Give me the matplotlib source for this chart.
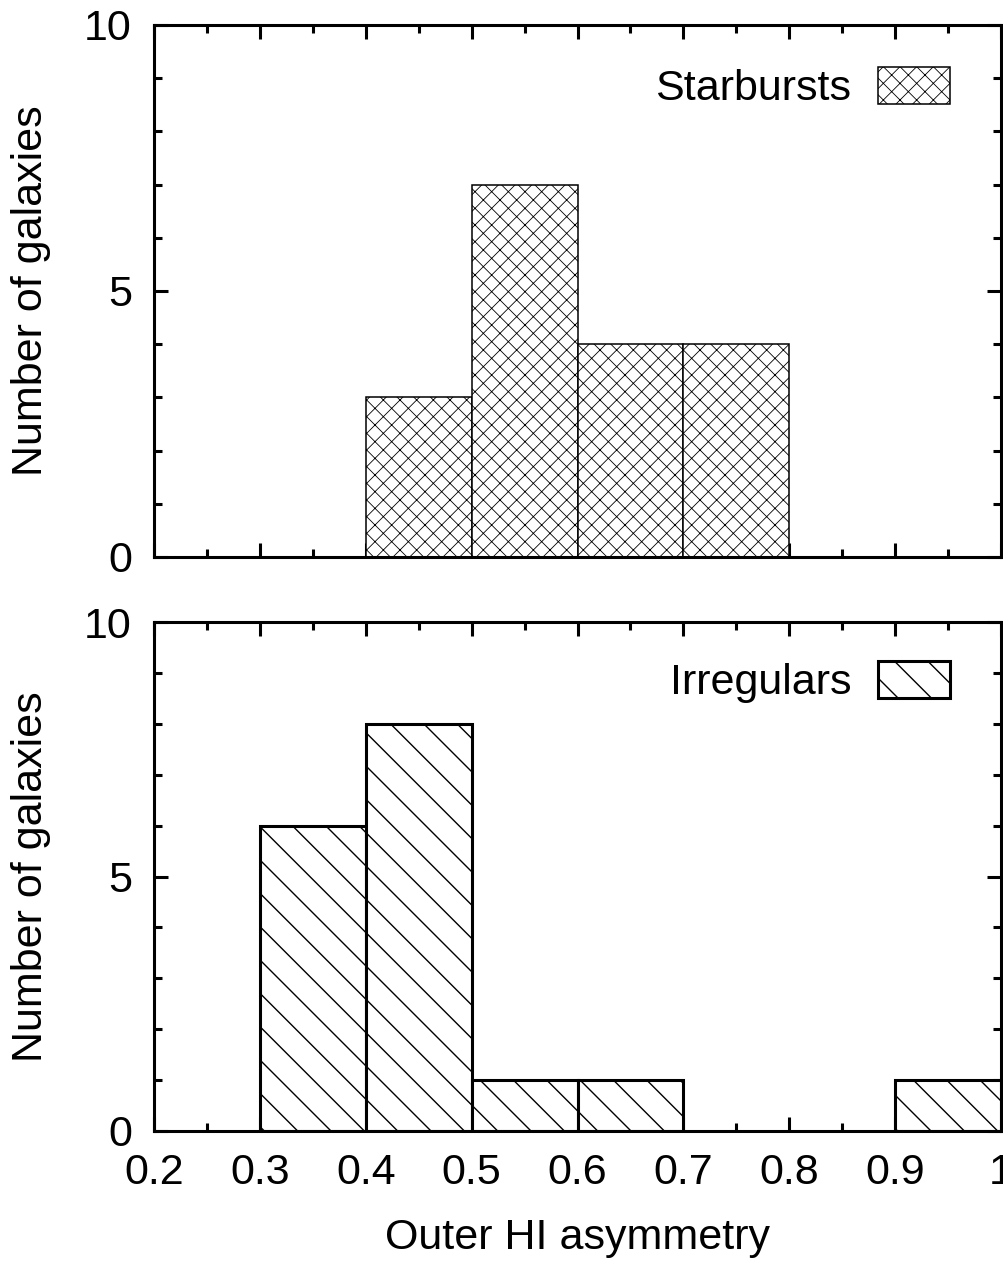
import matplotlib
matplotlib.use("Agg")
import matplotlib.pyplot as plt
import matplotlib.ticker as ticker
import numpy as np

# histogram bins (left edges) and counts
bin_left = [0.2, 0.3, 0.4, 0.5, 0.6, 0.7, 0.8, 0.9]
starbursts = [0, 0, 3, 7, 4, 4, 0, 0]
irregulars = [0, 6, 8, 1, 1, 0, 0, 1]
bin_width = 0.1

x_ticks = [0.2, 0.3, 0.4, 0.5, 0.6, 0.7, 0.8, 0.9, 1.0]
y_ticks = [0, 5, 10]

FS = 15.5
plt.rcParams['font.family'] = ['Liberation Sans', 'DejaVu Sans']
plt.rcParams['font.size'] = FS

# small figure at high dpi, scaled up on save
fig = plt.figure(figsize=(5.02, 6.305), dpi=200)
ax_top = fig.add_axes([0.1534, 0.5583, 0.8436, 0.4219])
ax_bot = fig.add_axes([0.1534, 0.1031, 0.8436, 0.4036])


def style_axis(ax, show_xlabels):
    ax.set_xlim(0.2, 1.0)
    ax.set_ylim(0, 10)
    ax.set_xticks(x_ticks)
    ax.xaxis.set_minor_locator(ticker.MultipleLocator(0.05))
    ax.set_yticks(y_ticks)
    ax.yaxis.set_minor_locator(ticker.MultipleLocator(1))
    ax.xaxis.set_major_formatter(ticker.FormatStrFormatter('%g'))
    ax.tick_params(which='both', direction='in', top=True, right=True,
                   width=1.1, labelsize=FS)
    ax.tick_params(which='major', length=5.0, pad=8)
    ax.tick_params(which='minor', length=2.8)
    ax.tick_params(axis='y', pad=8)
    if not show_xlabels:
        ax.tick_params(axis='x', labelbottom=False)
    for sp in ax.spines.values():
        sp.set_linewidth(1.1)
    ax.set_ylabel('Number of galaxies', fontsize=FS, labelpad=12)


def draw_bars(ax, counts, hatch, lw, hatch_lw, label, legend_y):
    lefts = [b for b, c in zip(bin_left, counts) if c > 0]
    heights = [c for c in counts if c > 0]
    with plt.rc_context({'hatch.linewidth': hatch_lw}):
        bars = ax.bar(lefts, heights, width=bin_width, align='edge',
                      color='white', edgecolor='black', linewidth=lw,
                      hatch=hatch, label=label, zorder=2)
        ax.legend(handles=[bars], loc='upper right',
                  bbox_to_anchor=(0.9398, legend_y), frameon=False,
                  markerfirst=False, borderpad=0, borderaxespad=0,
                  handlelength=26 / FS, handleheight=14.4 / FS,
                  handletextpad=0.62, fontsize=FS)


draw_bars(ax_top, starbursts, 'xxxx', 0.55, 0.3, 'Starbursts', 0.921)
draw_bars(ax_bot, irregulars, '\\\\', 1.1, 0.5, 'Irregulars', 0.9234)

style_axis(ax_top, False)
style_axis(ax_bot, True)
ax_bot.set_xlabel('Outer HI asymmetry', fontsize=FS, labelpad=9)

fig.savefig('out.png', dpi=200)
